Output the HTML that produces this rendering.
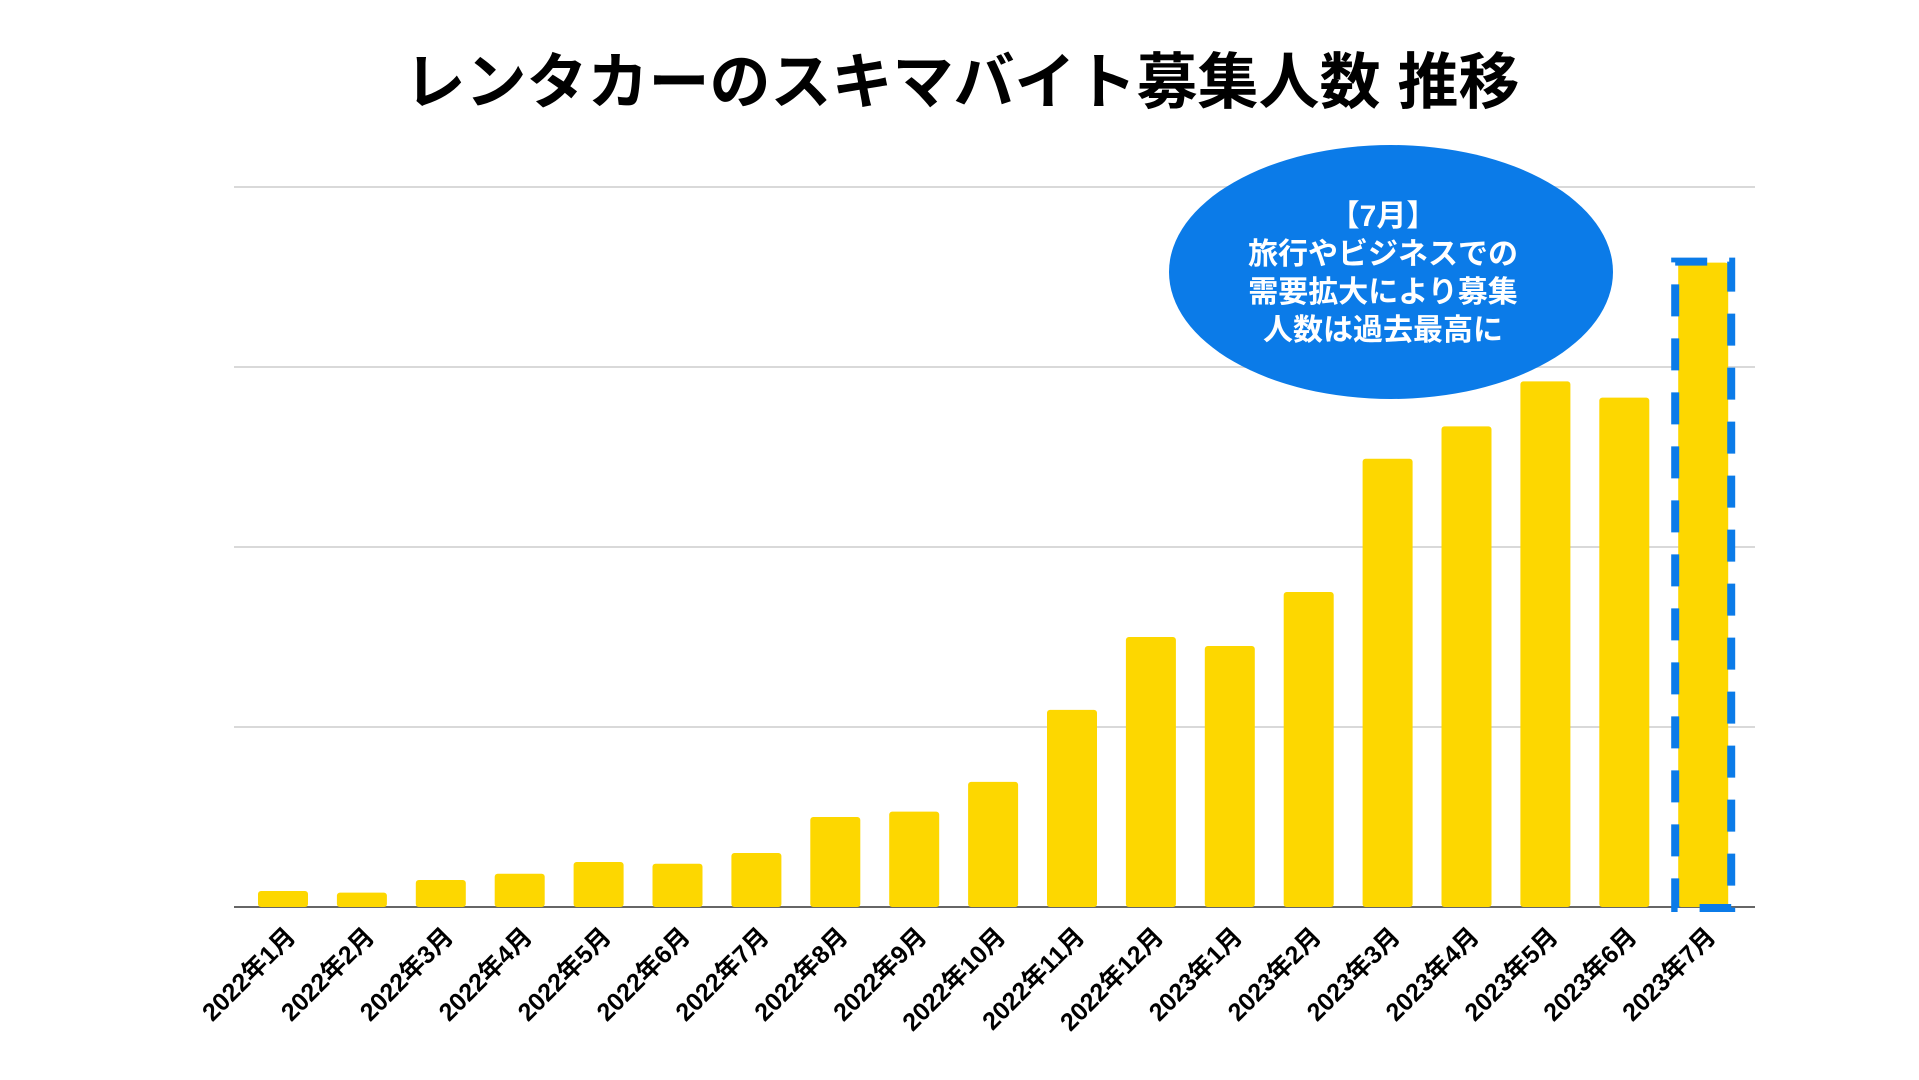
<!DOCTYPE html>
<html><head><meta charset="utf-8"><style>
html,body{margin:0;padding:0;background:#fff;}
svg{display:block;}
text{font-family:"Liberation Sans","Noto Sans CJK JP",sans-serif;font-weight:bold;}
</style></head><body>
<svg id="chart" width="1919" height="1080" viewBox="0 0 1919 1080">
<text x="962" y="103" text-anchor="middle" font-size="61" fill="#000">レンタカーのスキマバイト募集人数 推移</text>
<g id="grid"></g>
<g id="bars"></g>
<g id="labels"></g>
<g>
<ellipse cx="1391" cy="272" rx="222" ry="127" fill="#0b7be8"></ellipse>
<text x="1383" y="226" text-anchor="middle" font-size="30" fill="#fff">【7月】</text>
<text x="1383" y="264" text-anchor="middle" font-size="30" fill="#fff">旅行やビジネスでの</text>
<text x="1383" y="302" text-anchor="middle" font-size="30" fill="#fff">需要拡大により募集</text>
<text x="1383" y="340" text-anchor="middle" font-size="30" fill="#fff">人数は過去最高に</text>
</g>
<g id="highlight"></g>
</svg>
<script>
const categories = ["2022年1月","2022年2月","2022年3月","2022年4月","2022年5月","2022年6月","2022年7月","2022年8月","2022年9月","2022年10月","2022年11月","2022年12月","2023年1月","2023年2月","2023年3月","2023年4月","2023年5月","2023年6月","2023年7月"];
const values = [8.9, 8, 15, 18.5, 25, 24, 30, 50, 53, 69.5, 109.5, 150, 145, 175, 249, 267, 292, 283, 358];
const gridTicks = [0, 100, 200, 300, 400];

const NS = "http://www.w3.org/2000/svg";
const baseY = 907, pxPerUnit = 1.8;
const axisL = 234, axisR = 1755;
const firstCenter = 283, pitch = 78.9, barW = 50;
function yScale(v){ return baseY - v * pxPerUnit; }
function xCenter(i){ return firstCenter + i * pitch; }
function mk(tag, attrs, parent){ const e = document.createElementNS(NS, tag); for (const k in attrs) e.setAttribute(k, attrs[k]); parent.appendChild(e); return e; }

const grid = document.getElementById('grid');
gridTicks.forEach((t, i) => {
  const y = yScale(t);
  const l = mk('line', {x1: axisL, x2: axisR, y1: y, y2: y, stroke: i === 0 ? '#666' : '#d9d9d9', 'stroke-width': 2}, grid);
  
  
});

const bars = document.getElementById('bars');
const labels = document.getElementById('labels');
values.forEach((v, i) => {
  const cx = xCenter(i);
  const y = yScale(v);
  const r = mk('rect', {x: cx - barW / 2, y: y, width: barW, height: baseY - y, rx: 3, fill: '#fdd700'}, bars);
  
  
  const tx = cx + 14, ty = 938;
  const t = mk('text', {x: tx, y: ty, 'text-anchor': 'end', 'font-size': 25, fill: '#000', transform: 'rotate(-45 ' + tx + ' ' + ty + ')'}, labels);
  t.textContent = categories[i];
  
  
});

const hl = document.getElementById('highlight');
const li = values.length - 1;
const hx = xCenter(li);
const hy = yScale(values[li]);
const box = mk('rect', {x: hx - 28, y: hy - 1, width: 56, height: baseY - hy + 2, fill: 'none', stroke: '#0b7be8', 'stroke-width': 8, 'stroke-dasharray': '32 22'}, hl);


</script>
</body></html>
